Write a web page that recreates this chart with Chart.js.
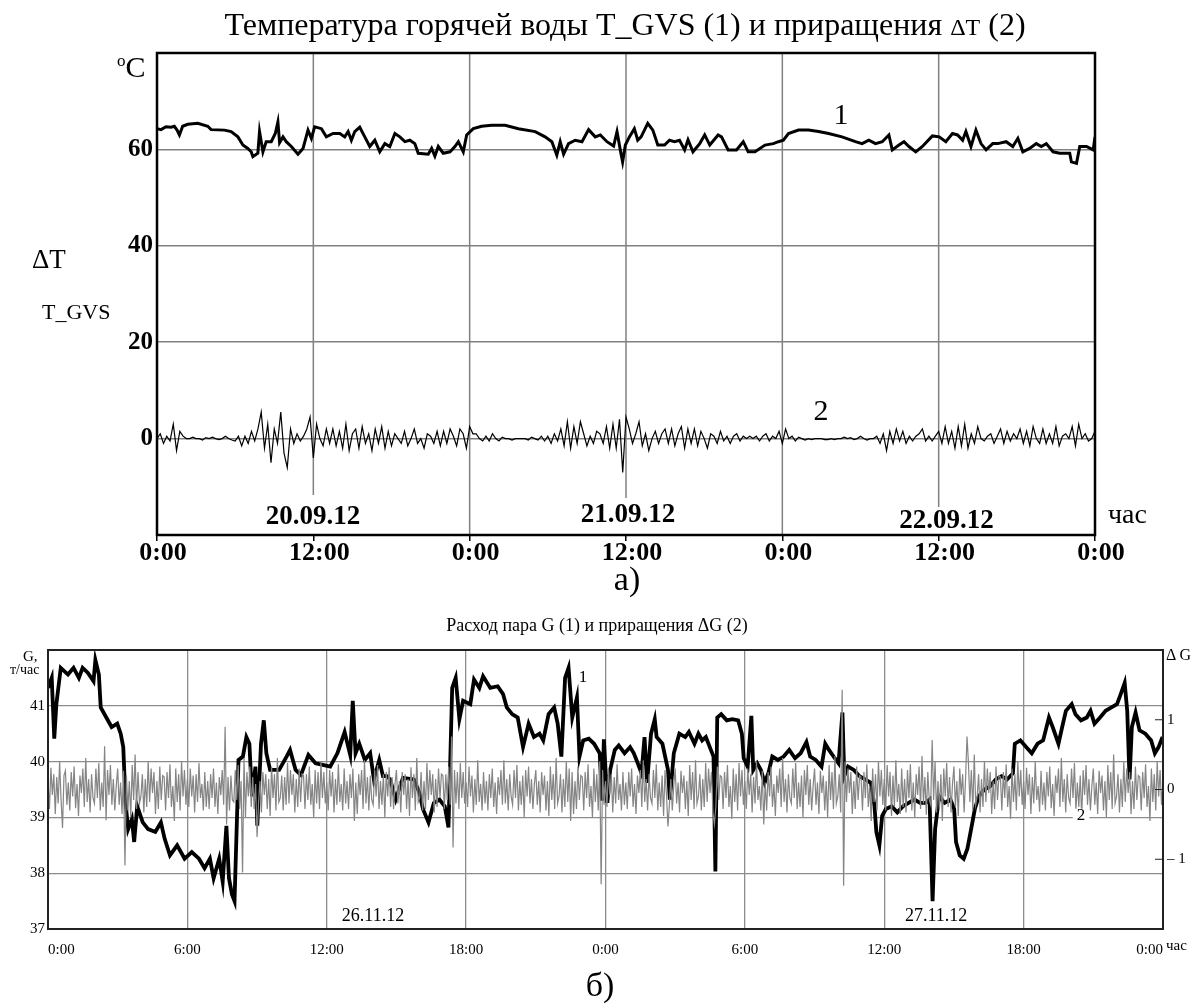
<!DOCTYPE html>
<html><head><meta charset="utf-8">
<script src="https://cdn.jsdelivr.net/npm/chart.js@4.4.0/dist/chart.umd.min.js"></script>
<style>
html,body{margin:0;padding:0;background:#fff;}
body{width:1194px;height:1006px;position:relative;overflow:hidden;font-family:"Liberation Serif","Times New Roman",serif;color:#000;}
canvas{position:absolute;left:0;}
.t{position:absolute;white-space:nowrap;line-height:1;}
</style></head><body>
<canvas id="c1" width="1194" height="600" style="top:0px"></canvas>
<canvas id="c2" width="1194" height="406" style="top:600px"></canvas>
<script>
// ---------- Chart a): hot water temperature ----------
const topXTicks = [0, 12, 24, 36, 48, 60, 72];
const topXLabels = ['0:00', '12:00', '0:00', '12:00', '0:00', '12:00', '0:00'];
const topYTicks = [0, 20, 40, 60];
const topYLabels = ['0', '20', '40', '60'];
const topDates = ['20.09.12', '21.09.12', '22.09.12'];

// T_GVS (1): hours and values
const tHours = [0,0.31,0.69,1.08,1.33,1.54,1.72,1.97,2.36,3.13,3.9,4.15,5.18,5.69,6.21,6.59,6.97,7.23,7.36,7.74,7.87,8.13,8.38,8.77,9.08,9.28,9.41,9.67,9.92,10.31,10.82,11.21,11.59,11.85,12.1,12.62,13,13.51,14.03,14.41,14.67,14.92,15.18,15.56,15.95,16.33,16.72,17.1,17.49,17.87,18.26,18.64,19.03,19.41,19.79,20.05,20.82,21.08,21.33,21.59,21.97,22.49,22.87,23.13,23.51,23.77,24.28,24.92,25.69,26.72,27.74,29.03,29.79,30.31,30.69,30.95,31.21,31.59,32.1,32.62,33.13,33.64,34.03,34.54,35.05,35.31,35.56,35.74,35.95,
36.26,36.64,36.9,37.16,37.67,38.06,38.44,38.96,39.34,39.73,40.11,40.5,40.76,41.14,41.66,42.04,42.43,43.07,43.33,43.84,44.48,45,45.38,45.9,46.67,47.31,47.7,48.08,48.47,49.24,50.01,50.78,51.55,52.58,53.61,54.12,54.64,55.15,55.67,56.18,56.44,56.95,57.34,57.72,58.24,58.75,59.52,60.04,60.55,61.06,61.45,61.84,62.09,62.48,62.86,63.25,63.64,64.15,64.53,65.18,65.69,66.08,66.46,66.98,67.49,67.88,68.26,68.78,69.29,70.06,70.19,70.58,70.83,71.35,71.86,72];
const tGvs = [64.3,64.1,64.7,64.6,64.8,64,63,64.8,65.2,65.4,64.8,64.1,64,63.7,62.6,60.9,60.2,59.5,58.5,59.2,63.7,59.5,61.6,61.6,63.3,65.7,61.4,62.6,61.6,60.6,59,60.2,64,62.3,64.7,64.3,62.6,63.3,63.3,62.6,63.7,61.9,63.7,64.6,62.6,60.6,61.9,59.5,61.2,60.6,63.3,62.6,61.6,61.9,61.2,59.2,59,60.2,58.6,60.6,59.2,59.5,60.6,61.6,59.5,63,64.3,64.8,65,65,64.3,63.7,62.6,61.6,58.8,61.6,59,61.2,61.9,61.6,64.1,62.6,63,61.6,60.7,63.7,59.9,57.4,60.9,
62.6,64.3,61.9,62.6,65.4,64,60.9,60.9,61.9,61.6,61.9,59.9,62,59.5,61.2,63,60.9,63,62.6,59.9,59.9,61.6,59.5,59.5,60.9,61.2,61.6,61.9,63.3,64,64,63.7,63.3,62.6,61.6,61.2,61.9,61.2,61.6,63,59.9,60.9,61.6,60.6,59.5,60.6,62.8,62.6,61.6,63.3,63,61.9,63.7,60.6,64,61.2,59.9,61.2,61.2,61.6,60.6,62.3,59.5,60.2,61.2,60.6,61.2,59.5,59.2,59.2,57.4,57.1,60.6,60.6,59.9,62.6];

// ΔT (2): one value every 0.25 h
const dTStep = 0.25;
const dT = [
0,1,-1,0.5, -0.5,3,-2.5,1.5, 0.5,0,0,0.3, 0,0,-0.3,0.2, 0,0.3,0,-0.2, 0,0.5,0,-0.3,
-0.5,0.5,-1.5,0.5, -1,1.5,-0.5,2, 5.5,-2,3,-5, 2,-1,5.5,-3, -6,2,-1,1, -0.5,0.5,2,4.5,
-4,3,0,-1.5, 2,-1,2,-1.5, 1.5,-2,3,-2.5, 1,2,-2,2.5, -1,1,-2.5,2, -1,2.5,-2,1.5,
-1.5,1,0,-1, 1.5,-1.5,0,2, -1,0,-2,1, 0.5,-1,1.5,-1.5, 1.5,-1,2,0.5, -1.5,2,1,-2,
2.5,1,1,0, -0.5,0.5,-0.5,1, 0,-0.5,0.3,0, 0,-0.3,0,0, 0,0,-0.3,0.3, 0,-0.3,0.5,-0.5,
0.5,-1,1,-0.5, 2,-1.5,3.5,-2, 2.5,-1,3.5,1, -1.5,0.5,-1,1.5, 1,-1,2.5,-2, 3,-2,4,-7,
4.5,2,-1,1, 3.5,-1.5,1,-2.5, 0,1.5,-1,1, 2,-1,2,-1.5, 1,2.5,-2,2, -1,2,-1.5,1.5,
0,-2,1,0.5, -1,1.5,-0.5,0.5, -1,0.5,1,-0.5, 0.5,0,0.5,0, 0.5,-0.5,0.5,1, -0.5,0.5,0,1.5,
-1,2,0,0.5, -0.5,0.3,0,-0.3, 0,-0.2,0,0, 0,-0.2,-0.2,0, -0.2,0,0,0.3, 0,0.2,-0.2,0,
0.5,0,-0.3,0, 0,0.5,-1,1, -2.5,1.5,-1,2, -0.5,1.5,-1,0.5, -0.5,0.5,1,2, -0.5,0.5,-0.5,0.5,
1.5,-1,2.5,-1, 1.5,-2,2.5,-1.5, 3,-2,1,-1, 2.5,0,-0.5,0.5, 1,-1,0.5,2, -1,1.5,-0.5,1,
0,2,-1,1.5, -1.5,2.5,0,-1, 2,-1,1,-1, 2.5,-1.5,0.5,1, 0,2.5,-1.5,3, 0,1,-0.5,0,
1.5];

// ---------- Chart б): steam flow ----------
const botXTicks = [0, 6, 12, 18, 24, 30, 36, 42, 48];
const botXLabels = ['0:00', '6:00', '12:00', '18:00', '0:00', '6:00', '12:00', '18:00', '0:00'];
const botYTicks = [37, 38, 39, 40, 41];
const botYLabels = ['37', '38', '39', '40', '41'];
const botY2Ticks = [-1, 0, 1];
const botY2Labels = ['\u2013 1', '0', '1'];
const botDates = ['26.11.12', '27.11.12'];

// G (1): hours and values, т/час
const gHours = [0,0.16,0.27,0.36,0.55,0.86,1.1,1.33,1.49,1.72,1.96,2.04,2.19,2.27,2.51,2.74,2.98,3.13,3.24,3.34,3.45,3.61,3.71,3.84,4.08,4.31,4.62,4.86,5.02,5.25,5.56,5.88,6.19,6.5,6.74,6.97,7.13,7.37,7.52,7.68,7.79,7.92,8.03,8.15,8.2,8.39,8.54,8.67,8.78,8.93,9.01,9.17,9.29,9.4,9.56,9.95,10.27,10.42,10.66,10.89,11.21,11.52,11.83,12.15,12.46,12.77,13.01,13.12,13.24,13.4,13.64,13.87,14.03,14.26,14.42,14.58,14.73,14.97,15.28,15.75,15.99,16.14,16.38,16.61,16.85,17.08,17.24,17.4,17.55,17.71,17.87,18.18,18.34,18.57,18.73,19.04,19.36,19.59,19.75,19.98,20.22,20.45,20.69,20.92,21.16,21.32,21.55,21.79,21.94,22.1,22.26,22.41,22.57,22.77,22.88,23.04,23.28,23.51,23.75,23.85,23.93,
24.08,24.2,24.4,24.57,24.82,25.06,25.22,25.39,25.55,25.68,25.79,25.96,26.12,26.2,26.45,26.69,26.77,26.94,27.18,27.43,27.59,27.83,28,28.16,28.32,28.49,28.65,28.73,28.81,28.98,29.22,29.46,29.71,29.87,29.95,30.12,30.28,30.36,30.53,30.69,30.85,31.01,31.18,31.42,31.67,31.91,32.16,32.4,32.65,32.81,33.05,33.3,33.46,33.62,33.87,34.03,34.2,34.28,34.44,34.69,34.93,35.17,35.42,35.58,35.66,35.79,35.91,36.07,36.32,36.56,36.81,37.05,37.3,37.54,37.79,37.95,38.08,38.19,38.36,38.6,38.85,39.01,39.09,39.25,39.42,39.58,39.74,39.9,40.07,40.31,40.56,40.8,41.05,41.29,41.54,41.62,41.86,42.11,42.35,42.6,42.84,43.09,43.25,43.5,43.66,43.82,44.07,44.23,44.47,44.72,44.88,45.05,45.29,45.53,45.78,46.02,46.18,46.35,46.46,46.56,46.66,46.82,46.99,47.24,47.49,47.65,47.81,47.98];
const gVals = [41.32,41.5,40.41,41.03,41.68,41.56,41.68,41.5,41.68,41.59,41.44,41.82,41.56,40.97,40.79,40.62,40.68,40.5,40.26,39.26,38.79,38.97,38.56,39.2,38.91,38.79,38.74,38.91,38.62,38.32,38.5,38.26,38.38,38.26,38.09,38.26,37.91,38.26,37.85,38.85,37.91,37.62,37.5,39.2,40.03,40.09,40.44,40.32,39.38,39.91,38.85,40.32,40.74,40.15,39.85,39.85,40.09,40.21,39.85,39.76,40.12,39.97,39.94,39.91,40.15,40.53,40.12,41.09,40.15,40.32,40.03,40.15,39.68,40.03,39.74,39.74,39.68,39.32,39.71,39.68,39.44,39.15,38.91,39.26,39.32,39.2,38.82,41.32,41.5,40.76,41.09,41.03,41.47,41.32,41.53,41.32,41.35,41.21,40.97,40.85,40.79,40.26,40.68,40.44,40.5,40.38,40.85,40.97,40.68,40.09,41.5,41.68,40.79,41.15,40.09,40.38,40.41,40.32,40.15,39.3,40.4,
39.26,39.85,40.21,40.29,40.15,40.26,40.15,39.97,39.79,40.44,39.62,40.5,40.76,40.44,40.32,39.85,39.32,40.15,40.5,40.44,40.53,40.32,40.5,40.38,40.44,40.26,40.09,38.03,40.79,40.85,40.74,40.76,40.74,40.5,40.06,39.91,40.82,39.85,39.97,39.85,39.62,39.79,40.09,40.03,40.09,40.21,40.06,40.15,40.35,40.09,40.03,39.91,40.32,40.21,40.06,39.97,40.88,39.74,39.91,39.85,39.74,39.68,39.62,39.2,38.74,38.5,39.03,39.15,39.2,39.09,39.2,39.26,39.32,39.26,39.26,39.32,37.5,38.79,39.38,39.26,39.32,39.15,38.56,38.32,38.26,38.44,38.79,39.15,39.38,39.5,39.56,39.68,39.74,39.68,39.79,40.32,40.38,40.26,40.15,40.32,40.38,40.79,40.62,40.32,40.62,40.91,41.03,40.85,40.74,40.79,40.91,40.68,40.79,40.91,40.97,41.03,41.21,41.41,40.91,39.68,40.62,40.88,40.56,40.5,40.38,40.15,40.26,40.44];

// ΔG (2): one value every 1/16 h (16 per row = one hour)
const dGStep = 0.0625;
const dG = [
0.12,-0.28,0.31,-0.08,0.22,-0.35,0.18,-0.2,0.4,-0.15,-0.55,0.2,0.27,-0.22,0.1,-0.3,
0.25,-0.1,0.33,-0.27,0.08,-0.38,0.2,-0.05,0.3,-0.25,0.45,-0.18,0.15,-0.33,0.22,-0.12,
-0.2,0.3,-0.12,0.38,-0.3,0.1,-0.25,0.62,-0.44,0.28,-0.08,0.35,-0.22,0.15,-0.3,0.05,
0.3,-0.22,0.1,-0.35,0.27,-1.09,0.2,-0.3,0.12,-0.4,0.35,-0.15,0.5,-0.28,0.25,-0.2,
-0.1,0.22,-0.33,0.15,-0.25,0.4,-0.18,0.3,-0.05,0.25,-0.35,0.12,-0.28,0.33,-0.15,0.2,
0.18,-0.3,0.25,-0.12,0.36,-0.25,0.05,-0.45,0.3,-0.18,0.22,-0.3,0.4,-0.1,0.28,-0.22,
0.15,-0.25,0.3,-0.1,0.2,-0.33,0.22,-0.18,0.38,-0.12,0.08,-0.3,0.25,-0.25,0.12,-0.28,
0.22,-0.12,0.3,-0.25,0.1,-0.35,0.18,-0.08,0.28,-0.22,0.9,-0.5,0.18,-0.3,0.2,-0.15,
-0.18,0.28,-0.15,0.35,-0.28,0.12,-1.19,0.45,-0.4,0.25,-0.1,0.33,-0.25,0.18,-0.28,0.08,
-0.68,-0.2,0.12,-0.33,0.25,-0.08,0.22,-0.28,0.15,-0.38,0.33,-0.12,0.22,-0.3,0.45,-0.18,
-0.12,0.2,-0.3,0.18,-0.22,0.38,-0.2,0.28,-0.08,0.22,-0.33,0.15,-0.25,0.3,-0.18,0.22,
0.2,-0.28,0.22,-0.15,0.33,-0.22,0.08,-0.4,0.28,-0.2,0.25,-0.28,0.38,-0.12,0.25,-0.2,
0.1,-0.3,0.28,-0.1,0.25,-0.33,0.15,-0.22,0.36,-0.18,0.08,-0.3,0.3,-0.2,0.12,-0.28,
0.22,-0.12,0.3,-0.45,0.1,-0.35,0.22,-0.08,0.28,-0.28,0.42,-0.2,0.18,-0.3,0.2,-0.15,
-0.22,0.28,-0.1,0.35,-0.28,0.12,-0.22,0.22,-0.4,0.25,-0.1,0.32,-0.25,0.18,-0.28,0.08,
0.28,-0.2,0.12,-0.33,0.25,-0.08,0.22,-0.28,0.15,-0.38,0.32,-0.12,0.22,-0.3,0.45,-0.18,
-0.12,0.25,-0.3,0.12,-0.28,0.38,-0.15,0.28,-0.08,0.22,-0.33,0.15,-0.25,0.3,-0.12,0.22,
0.2,-0.28,0.22,-0.15,0.33,-0.22,0.76,-0.83,0.28,-0.2,0.25,-0.28,0.38,-0.12,0.25,-0.2,
0.1,-0.25,0.33,-0.1,0.2,-0.33,0.15,-0.22,0.42,-0.18,0.08,-0.3,0.25,-0.2,0.12,-0.3,
0.22,-0.12,0.3,-0.25,0.1,-0.35,0.18,-0.08,0.28,-0.22,0.42,-0.2,0.15,-0.3,0.22,-0.1,
-0.22,0.28,-0.12,0.35,-0.3,0.12,-0.22,0.2,-0.4,0.28,-0.1,0.33,-0.2,0.15,-0.28,0.08,
0.28,-0.22,0.12,-0.33,0.25,-0.08,0.2,-0.3,0.12,-0.38,0.33,-0.15,0.22,-0.28,0.45,-0.2,
-0.1,0.22,-0.33,0.15,-0.25,0.4,-0.18,0.3,-0.45,0.25,-0.35,0.12,-0.28,0.33,-0.15,0.2,
0.18,-0.3,0.25,-0.12,0.36,-0.25,0.05,-0.4,0.3,-0.18,0.22,-0.3,0.4,-1.36,0.28,-0.22,
0.12,-0.25,0.3,-0.08,0.22,-0.33,0.18,-0.2,0.36,-0.15,0.08,-0.3,0.25,-0.22,0.1,-0.28,
0.25,-0.1,0.3,-0.25,0.08,-0.35,0.2,-0.05,0.28,-0.25,0.42,-0.18,0.15,-0.3,0.22,-0.12,
-0.2,0.28,-0.12,0.36,-0.3,0.1,-0.25,0.2,-0.38,0.28,-0.08,-0.53,-0.22,0.15,-0.3,0.05,
0.3,-0.2,0.1,-0.33,0.27,-0.05,0.2,-0.28,0.12,-0.38,0.35,-0.15,0.25,-0.28,0.42,-0.2,
-0.1,0.22,-0.3,0.15,-0.25,0.38,-0.18,0.3,-0.05,0.25,-0.33,-0.5,-0.25,0.33,-0.15,0.2,
0.18,-0.28,0.25,-0.12,0.35,-0.25,0.05,-0.42,0.3,-0.18,0.22,-0.3,0.38,-0.1,0.28,-0.22,
0.12,-0.28,0.3,-0.08,0.22,-0.33,0.18,-0.2,0.4,-0.15,0.05,-0.3,0.27,-0.5,0.1,-0.3,
0.25,-0.1,0.33,-0.25,0.08,-0.38,0.2,-0.05,0.3,-0.25,0.45,-0.18,0.15,-0.33,0.22,-0.12,
-0.2,0.3,-0.12,0.38,-0.28,0.1,-0.25,0.2,-0.4,0.28,-0.08,0.35,-0.22,0.15,-0.3,0.05,
0.3,-0.22,0.1,-0.35,0.27,-0.05,0.2,-0.3,0.12,-0.4,0.35,-0.15,0.25,-0.28,0.48,-0.2,
-0.1,0.22,-0.33,1.43,-1.38,0.4,-0.18,0.3,-0.05,0.25,-0.35,0.12,-0.28,0.33,-0.15,0.2,
0.18,-0.3,0.25,-0.12,0.36,-0.25,0.05,-0.45,0.3,-0.18,0.22,-0.3,0.4,-0.1,0.28,-0.22,
0.15,-0.3,0.35,-0.1,0.25,-0.38,0.2,-0.25,0.42,-0.18,0.08,-0.35,0.3,-0.25,0.15,-0.33,
0.28,-0.12,0.36,-0.3,0.1,-0.4,0.22,-0.08,0.33,-0.28,0.48,-0.2,0.18,-0.36,0.25,-0.15,
-0.22,0.71,-0.15,0.4,-0.33,0.12,-0.28,0.22,-0.45,0.3,-0.1,0.38,-0.25,0.18,-0.33,0.08,
0.33,-0.25,0.12,-0.38,0.3,-0.08,0.22,-0.33,0.15,0.76,0.38,-0.18,0.28,-0.3,0.5,-0.22,
-0.1,0.22,-0.33,0.15,-0.25,0.4,-0.18,0.3,-0.05,0.25,-0.35,0.12,-0.28,0.33,-0.15,0.2,
0.18,-0.3,0.25,-0.12,0.36,-0.25,0.05,-0.42,0.3,-0.18,0.22,-0.3,0.4,-0.1,0.28,-0.22,
0.12,-0.28,0.31,-0.08,0.22,-0.35,0.18,-0.2,0.4,-0.15,0.05,-0.32,0.27,-0.22,0.1,-0.3,
0.25,-0.1,0.33,-0.27,0.08,-0.38,0.2,-0.05,0.3,-0.25,0.45,-0.18,0.15,-0.33,0.22,-0.12,
-0.2,0.3,-0.12,0.38,-0.3,0.1,-0.25,0.2,-0.42,0.28,-0.08,0.35,-0.22,0.15,-0.3,0.05,
0.3,-0.22,0.1,-0.35,0.27,-0.05,0.2,-0.3,0.12,-0.4,0.35,-0.15,0.25,-0.28,0.5,-0.2,
-0.1,0.22,-0.33,0.15,-0.25,0.4,-0.18,0.3,-0.05,0.25,-0.35,0.12,-0.28,0.33,-0.15,0.2,
0.18,-0.3,0.25,-0.12,0.36,-0.25,0.05,-0.45,0.3,-0.18,0.22,-0.3,0.4,-0.1,0.28,-0.22,
0.1];

// ---------- helpers ----------
const SERIF = '"Liberation Serif","Times New Roman",serif';
function addText(html, x, y, size, opts) {
  opts = opts || {};
  const d = document.createElement('div');
  d.className = 't';
  d.innerHTML = html;
  d.style.fontSize = size + 'px';
  if (opts.bold) d.style.fontWeight = 'bold';
  d.style.left = x + 'px';
  d.style.top = y + 'px';
  d.style.transform = opts.left ? 'translate(0,-50%)' : 'translate(-50%,-50%)';
  document.body.appendChild(d);
}
function fixedTicks(values) {
  return (scale) => { scale.ticks = values.map(v => ({ value: v })); };
}

const decor = {
  id: 'decor',
  beforeDatasetsDraw(chart, args, o) {
    const { ctx, chartArea: a, scales } = chart;
    if (o.vGrid) {
      ctx.save();
      ctx.strokeStyle = o.vGrid.color; ctx.lineWidth = o.vGrid.width;
      o.vGrid.at.forEach((h, i) => {
        const x = scales.x.getPixelForValue(h);
        const e = o.vGrid.ends[i];
        const yEnd = (e === null) ? a.bottom : scales.y.getPixelForValue(e);
        ctx.beginPath(); ctx.moveTo(x, a.top); ctx.lineTo(x, yEnd); ctx.stroke();
      });
      ctx.restore();
    }
  },
  afterDatasetsDraw(chart, args, o) {
    const { ctx, chartArea: a, scales } = chart;
    ctx.save();
    ctx.strokeStyle = o.frame.color; ctx.lineWidth = o.frame.width;
    ctx.strokeRect(a.left, a.top, a.right - a.left, a.bottom - a.top);
    if (o.innerTicks) {
      const s = scales[o.innerTicks.axis];
      ctx.lineWidth = 1;
      o.innerTicks.values.forEach(v => {
        const y = s.getPixelForValue(v);
        ctx.beginPath(); ctx.moveTo(a.right - o.innerTicks.len, y); ctx.lineTo(a.right, y); ctx.stroke();
      });
    }
    (o.labels || []).forEach(l => {
      const x = scales.x.getPixelForValue(l.x);
      const y = scales.y.getPixelForValue(l.y);
      ctx.font = l.font;
      ctx.textAlign = 'center'; ctx.textBaseline = 'middle';
      if (l.bg) {
        const w = ctx.measureText(l.text).width + 8;
        ctx.fillStyle = '#fff';
        ctx.fillRect(x - w / 2, y - l.h / 2, w, l.h);
      }
      ctx.fillStyle = '#000';
      ctx.fillText(l.text, x, y);
    });
    ctx.restore();
  }
};

// ---------- chart a) ----------
new Chart(document.getElementById('c1'), {
  type: 'line',
  data: {
    datasets: [
      { label: 'T_GVS', data: tHours.map((h, i) => ({ x: h, y: tGvs[i] })),
        borderColor: '#000', borderWidth: 3, pointRadius: 0, tension: 0, borderJoinStyle: 'miter' },
      { label: '\u0394T', data: dT.map((v, i) => ({ x: i * dTStep, y: v })),
        borderColor: '#000', borderWidth: 1.2, pointRadius: 0, tension: 0 }
    ]
  },
  options: {
    responsive: false, animation: false, devicePixelRatio: 1,
    layout: { padding: { top: 53, right: 99, left: 0, bottom: 0 } },
    plugins: {
      legend: { display: false }, tooltip: { enabled: false },
      decor: {
        frame: { color: '#000', width: 2.5 },
        vGrid: { at: [12, 24, 36, 48, 60], ends: [-11.7, null, -12.3, null, -14.2], color: '#808080', width: 1.5 },
        labels: [
          { text: '1', x: 52.5, y: 66.9, font: '30px ' + SERIF },
          { text: '2', x: 50.96, y: 5.5, font: '30px ' + SERIF },
          { text: topDates[0], x: 11.97, y: -16.3, font: 'bold 27px ' + SERIF },
          { text: topDates[1], x: 36.15, y: -15.9, font: 'bold 27px ' + SERIF },
          { text: topDates[2], x: 60.6, y: -17.1, font: 'bold 27px ' + SERIF }
        ]
      }
    },
    scales: {
      x: {
        type: 'linear', min: 0, max: 72,
        afterBuildTicks: fixedTicks(topXTicks),
        afterFit: s => { s.height = 65; },
        ticks: { callback: (v, i) => topXLabels[i], autoSkip: false, maxRotation: 0, labelOffset: 6,
                 padding: -3, color: '#000', font: { family: SERIF, size: 26, weight: 'bold' } },
        grid: { drawOnChartArea: false, drawTicks: true, tickLength: 6, color: '#000', lineWidth: 1.5 },
        border: { display: false }
      },
      y: {
        type: 'linear', min: -20, max: 80,
        afterBuildTicks: fixedTicks(topYTicks),
        afterFit: s => { s.width = 157; },
        ticks: { callback: (v, i) => topYLabels[i], padding: 4, color: '#000',
                 font: { family: SERIF, size: 25, weight: 'bold' } },
        grid: { color: '#808080', lineWidth: 1.5, drawTicks: false },
        border: { display: false }
      }
    }
  },
  plugins: [decor]
});

// ---------- chart б) ----------
new Chart(document.getElementById('c2'), {
  type: 'line',
  data: {
    datasets: [
      { label: '\u0394G', data: dG.map((v, i) => ({ x: i * dGStep, y: v })), yAxisID: 'y2', order: 0,
        borderColor: '#858585', borderWidth: 1.2, pointRadius: 0, tension: 0 },
      { label: 'G', data: gHours.map((h, i) => ({ x: h, y: gVals[i] })), yAxisID: 'y', order: 1,
        borderColor: '#000', borderWidth: 3.8, pointRadius: 0, tension: 0 }
    ]
  },
  options: {
    responsive: false, animation: false, devicePixelRatio: 1,
    layout: { padding: { top: 50, right: 0, left: 0, bottom: 0 } },
    plugins: {
      legend: { display: false }, tooltip: { enabled: false },
      decor: {
        frame: { color: '#222', width: 2 },
        innerTicks: { axis: 'y2', values: botY2Ticks, len: 8 },
        labels: [
          { text: '1', x: 23.03, y: 41.5, font: '17px ' + SERIF },
          { text: '2', x: 44.47, y: 39.03, font: '17px ' + SERIF, bg: true, h: 14 },
          { text: botDates[0], x: 13.99, y: 37.23, font: '18px ' + SERIF },
          { text: botDates[1], x: 38.23, y: 37.23, font: '18px ' + SERIF }
        ]
      }
    },
    scales: {
      x: {
        type: 'linear', min: 0, max: 48,
        afterBuildTicks: fixedTicks(botXTicks),
        afterFit: s => { s.height = 77; },
        ticks: { callback: (v, i) => botXLabels[i], autoSkip: false, maxRotation: 0, align: 'inner',
                 padding: 12, color: '#000', font: { family: SERIF, size: 15 } },
        grid: { color: '#8c8c8c', lineWidth: 1.3, drawTicks: false },
        border: { display: false }
      },
      y: {
        type: 'linear', position: 'left', min: 37, max: 42,
        afterBuildTicks: fixedTicks(botYTicks),
        afterFit: s => { s.width = 48; },
        ticks: { callback: (v, i) => botYLabels[i], padding: 3, color: '#000',
                 font: { family: SERIF, size: 15 } },
        grid: { color: '#8c8c8c', lineWidth: 1.3, drawTicks: false },
        border: { display: false }
      },
      y2: {
        type: 'linear', position: 'right', min: -2, max: 2,
        afterBuildTicks: fixedTicks(botY2Ticks),
        afterFit: s => { s.width = 31; },
        ticks: { callback: (v, i) => botY2Labels[i], padding: 4, color: '#000',
                 font: { family: SERIF, size: 15 } },
        grid: { drawOnChartArea: false, drawTicks: false },
        border: { display: false }
      }
    }
  },
  plugins: [decor]
});

// ---------- captions ----------
addText('Температура горячей воды T_GVS (1) и приращения <span style="font-size:0.75em">\u0394T</span> (2)', 625, 24, 32);
addText('<span style="font-size:17px;position:relative;top:-11px">o</span>C', 117, 67, 30, { left: true });
addText('\u0394T', 32, 259, 27, { left: true });
addText('T_GVS', 42, 312, 22, { left: true });
addText('час', 1108, 514, 28, { left: true });
addText('а)', 627, 579, 34);
addText('Расход пара G (1) и приращения \u0394G (2)', 597, 625, 18);
addText('G,', 23, 656, 15, { left: true });
addText('т/час', 10, 670, 14, { left: true });
addText('\u0394 G', 1166, 655, 16, { left: true });
addText('час', 1166, 945, 15, { left: true });
addText('б)', 600, 985, 34);
</script>
</body></html>
